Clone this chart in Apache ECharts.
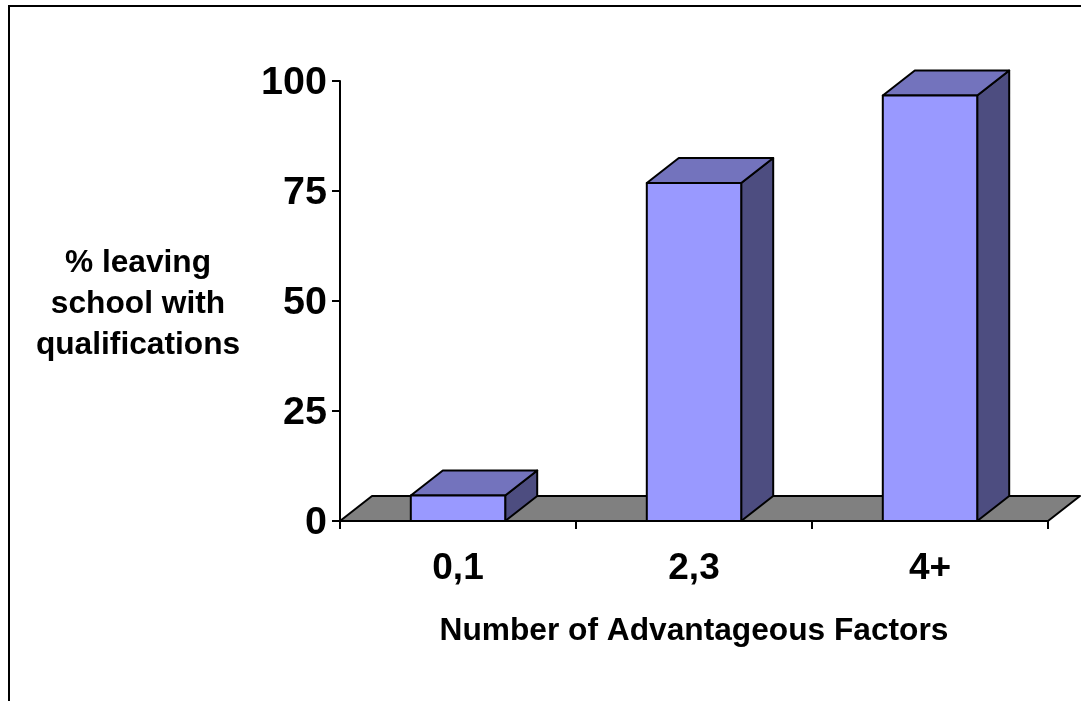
<!DOCTYPE html>
<html>
<head>
<meta charset="utf-8">
<style>
  html, body { margin: 0; padding: 0; background: #fff; }
  #chart { width: 1081px; height: 701px; }
</style>
<script src="https://cdn.jsdelivr.net/npm/echarts@6/dist/echarts.min.js"></script>
</head>
<body>
<div id="chart"></div>
<script>
// Share of pupils leaving school with qualifications, by number of advantageous factors
const categories = ['0,1', '2,3', '4+'];
const percentages = [5.8, 76.8, 96.7];
const yTicks = [0, 25, 50, 75, 100];
const yTitleLines = ['% leaving', 'school with', 'qualifications'];

const FONT = '"Liberation Sans", Arial, sans-serif';
const DEPTH_X = 32;
const DEPTH_Y = 25;
const LINE = { stroke: '#000', lineWidth: 2, lineJoin: 'round' };

function face(points, fill) {
  return { type: 'polygon', shape: { points }, style: Object.assign({ fill }, LINE) };
}

// Grey floor of the pseudo-3D plot area
function renderFloor(params) {
  const g = params.coordSys;
  const b = g.y + g.height;
  return face([
    [g.x, b],
    [g.x + DEPTH_X, b - DEPTH_Y],
    [g.x + g.width + DEPTH_X, b - DEPTH_Y],
    [g.x + g.width, b]
  ], '#808080');
}

// Box with front, top and side faces
function renderBox(params, api) {
  const top = api.coord([api.value(0), api.value(1)]);
  const base = api.coord([api.value(0), 0]);
  const w = api.size([1, 0])[0] * 0.4;
  const l = top[0] - w / 2;
  const r = top[0] + w / 2;
  return {
    type: 'group',
    children: [
      face([[r, top[1]], [r + DEPTH_X, top[1] - DEPTH_Y], [r + DEPTH_X, base[1] - DEPTH_Y], [r, base[1]]], '#4D4D80'),
      face([[l, top[1]], [l + DEPTH_X, top[1] - DEPTH_Y], [r + DEPTH_X, top[1] - DEPTH_Y], [r, top[1]]], '#7373BD'),
      face([[l, top[1]], [r, top[1]], [r, base[1]], [l, base[1]]], '#9999FF')
    ]
  };
}

const chart = echarts.init(document.getElementById('chart'), null, { renderer: 'canvas' });
chart.setOption({
  animation: false,
  backgroundColor: '#fff',
  graphic: [{
    type: 'polyline',
    silent: true,
    shape: { points: [[9, 701], [9, 6], [1081, 6]] },
    style: { stroke: '#000', lineWidth: 2, fill: null }
  }],
  grid: { left: 340, top: 81, width: 708, height: 440 },
  xAxis: {
    type: 'category',
    data: categories,
    name: 'Number of Advantageous Factors',
    nameLocation: 'middle',
    nameGap: 94,
    nameTextStyle: { fontFamily: FONT, fontWeight: 'bold', fontSize: 31.7, color: '#000' },
    axisLine: { lineStyle: { color: '#000', width: 2 } },
    axisTick: { show: true, alignWithLabel: false, length: 8, lineStyle: { color: '#000', width: 2 } },
    axisLabel: { fontFamily: FONT, fontWeight: 'bold', fontSize: 37, color: '#000', margin: 29 }
  },
  yAxis: {
    type: 'value',
    min: yTicks[0],
    max: yTicks[yTicks.length - 1],
    interval: yTicks[1] - yTicks[0],
    // The short leading line nudges the three-line title down a little
    name: '{gap| }\n' + yTitleLines.map(t => '{line|' + t + '}').join('\n'),
    nameLocation: 'middle',
    nameGap: 202,
    nameRotate: 0,
    nameTextStyle: {
      align: 'center',
      verticalAlign: 'middle',
      rich: {
        gap: { fontSize: 1, lineHeight: 6 },
        line: { fontFamily: FONT, fontWeight: 'bold', fontSize: 31.7, color: '#000', lineHeight: 41, align: 'center' }
      }
    },
    axisLine: { show: true, lineStyle: { color: '#000', width: 2 } },
    axisTick: { show: true, length: 8, lineStyle: { color: '#000', width: 2 } },
    splitLine: { show: false },
    axisLabel: { fontFamily: FONT, fontWeight: 'bold', fontSize: 39.5, color: '#000', margin: 13, verticalAlign: 'top', lineHeight: 5 }
  },
  series: [
    { type: 'custom', silent: true, clip: false, z: 1, renderItem: renderFloor, data: [0] },
    {
      type: 'custom',
      silent: true,
      clip: false,
      z: 2,
      encode: { x: 0, y: 1 },
      renderItem: renderBox,
      data: percentages.map((v, i) => [i, v])
    }
  ]
});
</script>
</body>
</html>
